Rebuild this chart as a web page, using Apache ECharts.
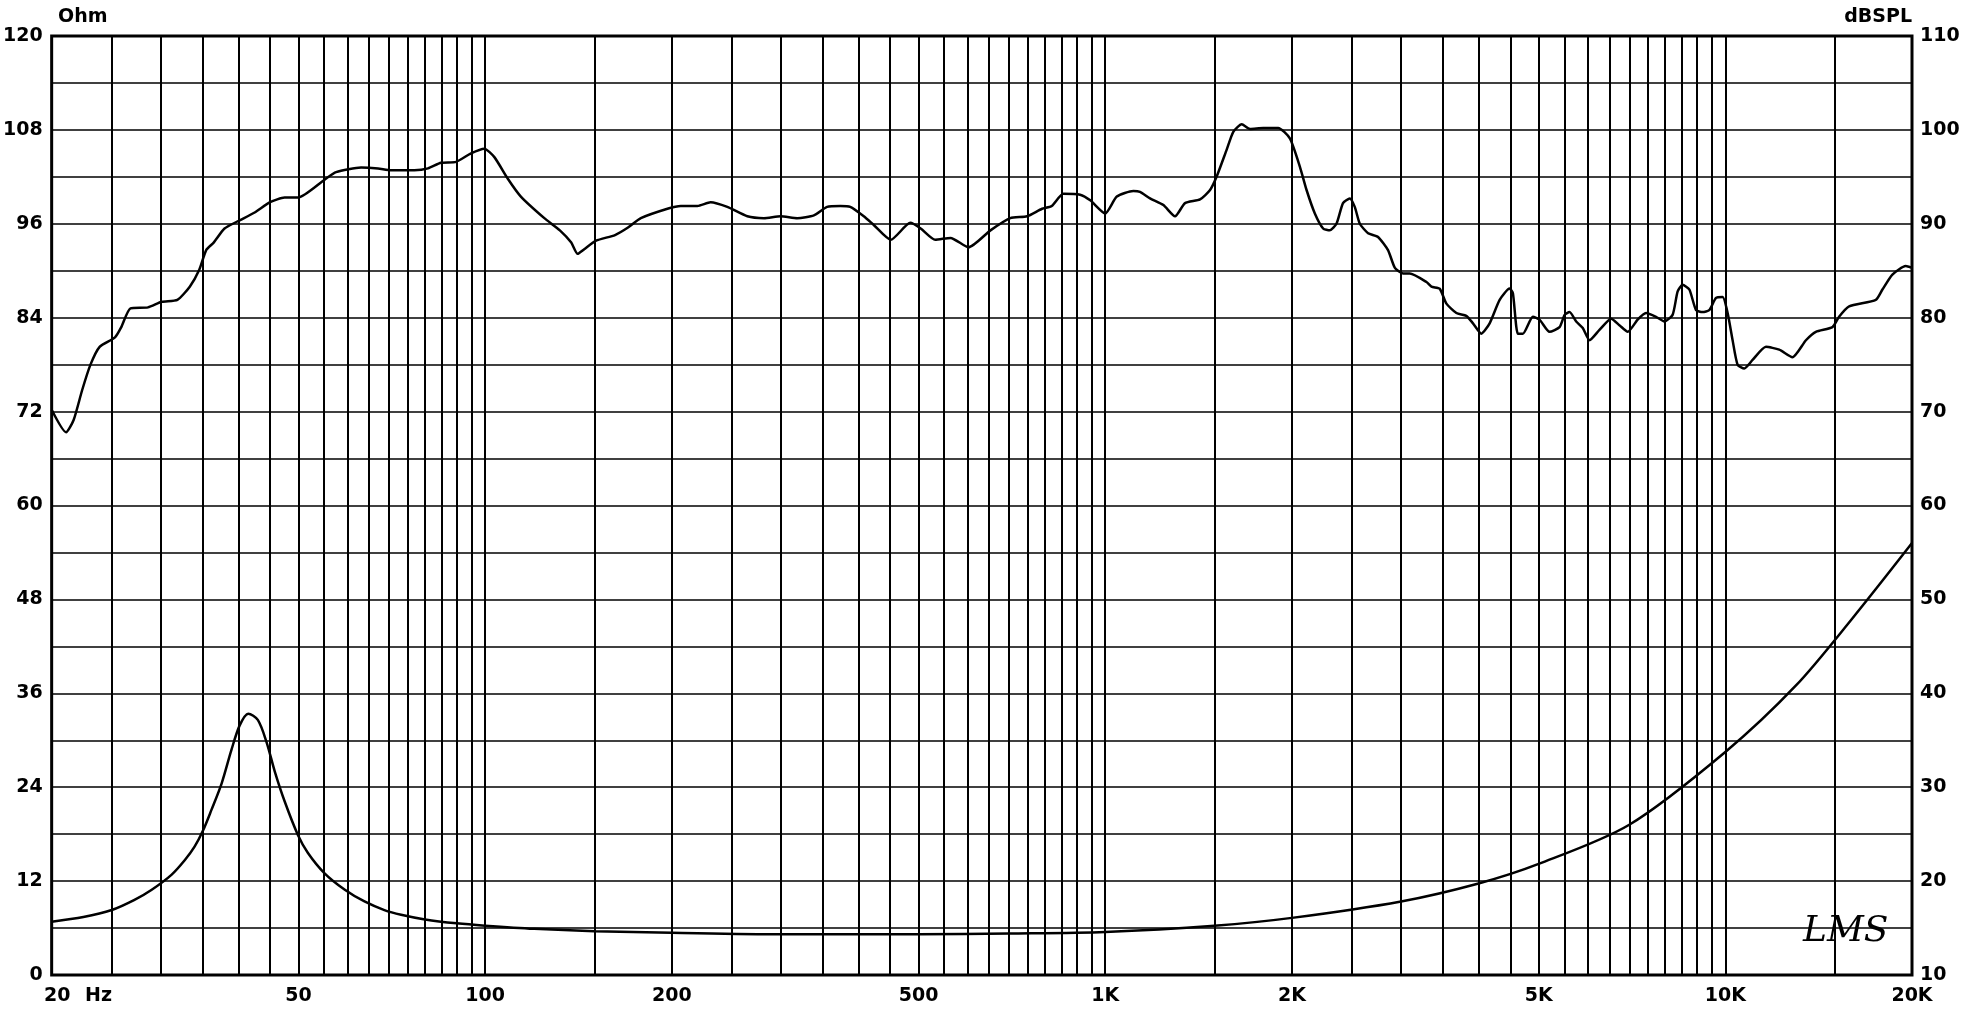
<!DOCTYPE html>
<html><head><meta charset="utf-8">
<script src="https://cdn.jsdelivr.net/npm/echarts@6/dist/echarts.min.js"></script>
<style>html,body{margin:0;padding:0;background:#fff}#c{width:1964px;height:1009px}</style>
</head><body><div id="c"></div>
<script>
// ---- Data ----
const splFreq = [20,21.1,21.7,22.4,23.1,23.9,25.3,25.9,26.8,28.6,30.1,31.9,33.4,34.6,35.5,36.5,38,40,42.5,45,47.5,49.9,55.1,57.5,63.1,67.2,70.5,76.9,80.9,84.9,89.8,94.9,99.7,103.5,108.8,114.2,124.6,132,137.7,141,144.5,151,162,170,178.3,196.8,206.8,220,231,245.8,264.8,281.6,299.6,318.8,339,356,374,388,408,423,451,485,504,532,563,602,653,703,748,791,820,856,911,946,1000,1044,1110,1138,1181,1241,1296,1345,1422,1476,1512,1570,1609,1660,1712,1798,1901,1985,2060,2112,2178,2246,2302,2360,2418,2480,2526,2574,2654,2754,2858,2932,3022,3098,3296,3358,3462,3550,3684,3822,3918,4042,4168,4326,4488,4544,4628,4716,4894,5016,5206,5404,5506,5608,5748,5890,6040,6266,6544,6748,6960,7222,7450,7732,7972,8222,8378,8534,8750,8970,9190,9420,9660,9900,10086,10274,10466,10730,11064,11628,12216,12832,13488,13996,14886,15256,15836,17484,17920,18596,19540,20000];
const splDb = [70.2,67.8,69.1,72.3,75.0,76.9,77.9,79.0,81.0,81.1,81.7,81.9,83.3,85.1,87.2,88.0,89.5,90.3,91.2,92.3,92.8,92.8,94.7,95.5,96.0,95.9,95.7,95.7,95.9,96.5,96.6,97.5,98.0,97.1,94.8,92.9,90.6,89.3,88.0,86.8,87.3,88.2,88.8,89.6,90.6,91.6,91.9,91.9,92.3,91.8,90.8,90.6,90.8,90.6,90.9,91.8,91.9,91.8,90.8,89.9,88.3,90.1,89.5,88.3,88.5,87.5,89.3,90.6,90.8,91.6,91.9,93.2,93.1,92.5,91.1,92.9,93.5,93.4,92.7,92.0,90.8,92.2,92.6,93.6,95.0,97.9,99.8,100.6,100.1,100.2,100.2,99.1,96.1,93.6,91.1,89.5,89.3,90.0,92.2,92.7,91.8,90.0,89.0,88.6,87.2,85.3,84.7,84.7,83.8,83.3,83.1,81.5,80.5,80.2,79.4,78.3,79.4,81.9,83.1,82.6,78.3,78.3,80.1,79.8,78.5,79.0,80.3,80.6,79.6,78.9,77.6,78.7,79.9,79.2,78.5,79.8,80.5,80.1,79.6,80.3,82.8,83.5,83.0,80.8,80.6,80.8,82.1,82.2,80.5,77.6,75.0,74.6,75.5,76.9,76.6,75.8,77.6,78.5,79.0,80.1,81.2,81.9,83.0,84.6,85.5,85.3];
const impFreq = [20,22.5,25,27.2,29,31.2,32.8,34,35.1,36.2,37.6,39,40.2,41.5,43,44.4,45.8,47.5,49.9,51.8,55.1,59.4,63.9,68.8,73.2,80,90,100,120,150,200,300,500,700,1000,1500,2000,3000,4000,5000,7000,10000,13000,16000,20000];
const impOhm = [6.8,7.4,8.3,9.6,10.9,12.8,14.7,16.4,18.5,21.1,24.5,28.8,31.9,33.4,32.6,29.8,26.0,22.2,17.9,15.6,13.0,10.9,9.4,8.3,7.7,7.1,6.6,6.3,5.9,5.6,5.4,5.2,5.2,5.3,5.5,6.3,7.3,9.4,11.7,14.2,19.2,28.5,37.0,45.5,55.2];

const xLabelValues = [20,50,100,200,500,1000,2000,5000,10000,20000];
const xLabelTexts  = ['20','50','100','200','500','1K','2K','5K','10K','20K'];
const ohmLabels = [0,12,24,36,48,60,72,84,96,108,120];
const splLabels = [10,20,30,40,50,60,70,80,90,100,110];

// vertical grid frequencies: 5 Hz steps to 100, 50 Hz to 1K, 500 Hz to 10K, 5K to 20K
const gridFreqs = [];
[[20,100,5],[100,1000,50],[1000,10000,500],[10000,20000,5000]].forEach(function(s,i){
  for (let f = s[0] + (i===0?0:s[2]); f <= s[1] + 1e-9; f += s[2]) gridFreqs.push(f);
});

const FONT = 'DejaVu Sans';
const FS = 19;
const lblStyle = {color:'#000', fontFamily:FONT, fontWeight:'bold', fontSize:FS};

const chart = echarts.init(document.getElementById('c'), null, {renderer:'canvas'});
chart.setOption({
  animation:false,
  backgroundColor:'#fff',
  grid:{left:49, right:52, top:36, bottom:34, show:true, borderColor:'#000', borderWidth:3, backgroundColor:'transparent', z:10},
  xAxis:{
    type:'log', logBase:10, min:20, max:20000,
    axisLine:{show:false},
    axisTick:{show:false, customValues:gridFreqs},
    splitLine:{show:true, lineStyle:{color:'#000', width:2}},
    axisLabel:Object.assign({margin:12, customValues:xLabelValues,
      rich:{first:{padding:[0,0,0,11], color:'#000', fontFamily:FONT, fontWeight:'bold', fontSize:FS}},
      formatter:function(v){
        const i = xLabelValues.indexOf(v);
        if (i < 0) return '';
        return i === 0 ? '{first|' + xLabelTexts[i] + '}' : xLabelTexts[i];
      }}, lblStyle)
  },
  yAxis:[{
    type:'value', min:0, max:120, interval:6, position:'left',
    axisLine:{show:false}, axisTick:{show:false},
    splitLine:{show:true, lineStyle:{color:'#000', width:1.5}},
    axisLabel:Object.assign({margin:9, customValues:ohmLabels}, lblStyle)
  },{
    type:'value', min:10, max:110, interval:10, position:'right',
    axisLine:{show:false}, axisTick:{show:false}, splitLine:{show:false},
    axisLabel:Object.assign({margin:8, customValues:splLabels}, lblStyle)
  }],
  series:[{
    name:'SPL', type:'line', yAxisIndex:1, symbol:'none', smooth:0.2,
    lineStyle:{color:'#000', width:2.5},
    data:splFreq.map(function(f,i){return [f, splDb[i]];})
  },{
    name:'Impedance', type:'line', yAxisIndex:0, symbol:'none', smooth:0.3,
    lineStyle:{color:'#000', width:2.5},
    data:impFreq.map(function(f,i){return [f, impOhm[i]];})
  }],
  graphic:[
    {type:'text', left:58, top:8, style:{text:'Ohm', fill:'#000', font:'bold 19px "DejaVu Sans"'}},
    {type:'text', right:52, top:8, style:{text:'dBSPL', fill:'#000', font:'bold 19px "DejaVu Sans"'}},
    {type:'text', left:85, top:987, style:{text:'Hz', fill:'#000', font:'bold 19px "DejaVu Sans"'}},
    {type:'text', left:1803, top:914, style:{text:'LMS', fill:'#000', font:'italic 36px "DejaVu Serif"'}}
  ]
});
</script>
</body></html>
